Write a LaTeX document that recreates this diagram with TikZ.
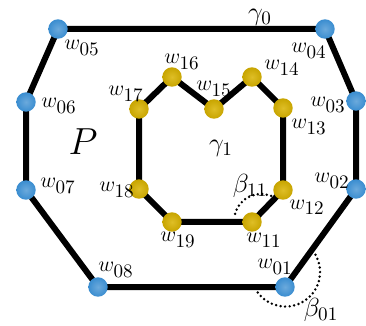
\documentclass[tikz,border=0pt]{standalone}
\usetikzlibrary{backgrounds}
\definecolor{vblue}{HTML}{3A8DD0}
\definecolor{vyel}{HTML}{D9B300}
\newcommand{\subd}[1]{\mbox{\fontsize{10.5}{12}\selectfont#1}}
\newcommand{\wl}[1]{$w_{\subd{#1}}$}

\begin{document}
\begin{tikzpicture}[x=0.55pt,y=-0.55pt,
  ov/.style={circle,inner sep=0pt,minimum size=10.7pt,inner color=vblue!75!white,outer color=vblue},
  iv/.style={circle,inner sep=0pt,minimum size=10.7pt,inner color=vyel!85!white,outer color=vyel!92!black},
  e/.style={line width=3.3pt,line join=round},
  lb/.style={inner sep=0pt,font=\fontsize{12.8}{15}\selectfont},
  gl/.style={inner sep=0pt,font=\fontsize{15.5}{18}\selectfont},
  arcd/.style={line width=1.5pt,dash pattern=on 0pt off 2.5pt,line cap=round}]
  \useasboundingbox (0,0) rectangle (366,326);
  % outer boundary
  \node[ov](w01) at (285,287){};
  \node[ov](w02) at (356,189){};
  \node[ov](w03) at (356,101){};
  \node[ov](w04) at (325,29){};
  \node[ov](w05) at (58,29){};
  \node[ov](w06) at (26,102){};
  \node[ov](w07) at (26,190){};
  \node[ov](w08) at (98,287){};
  % hole
  \node[iv](w11) at (252,222){};
  \node[iv](w12) at (283,190){};
  \node[iv](w13) at (283,108){};
  \node[iv](w14) at (252,77){};
  \node[iv](w15) at (214,109){};
  \node[iv](w16) at (172,77){};
  \node[iv](w17) at (139,109){};
  \node[iv](w18) at (139,189){};
  \node[iv](w19) at (172,222){};
  \begin{scope}[on background layer]
    \draw[e](w01.center)--(w02.center)--(w03.center)--(w04.center)--(w05.center)--(w06.center)--(w07.center)--(w08.center)--cycle;
    \draw[e](w11.center)--(w12.center)--(w13.center)--(w14.center)--(w15.center)--(w16.center)--(w17.center)--(w18.center)--(w19.center)--cycle;
  \end{scope}
  % labels
  \node[lb](l01) at (275,267){\wl{01}};
  \node[lb](l02) at (332,181){\wl{02}};
  \node[lb](l03) at (328,105){\wl{03}};
  \node[lb](l04) at (309,51){\wl{04}};
  \node[lb](l05) at (82,48){\wl{05}};
  \node[lb](l06) at (59,106){\wl{06}};
  \node[lb](l07) at (58,186){\wl{07}};
  \node[lb](l08) at (116,270){\wl{08}};
  \node[lb](l11) at (264,240){\wl{11}};
  \node[lb](l12) at (307,207){\wl{12}};
  \node[lb](l13) at (309,127){\wl{13}};
  \node[lb](l14) at (282,68){\wl{14}};
  \node[lb](l15) at (214,89){\wl{15}};
  \node[lb](l16) at (182,62){\wl{16}};
  \node[lb](l17) at (126,94){\wl{17}};
  \node[lb](l18) at (117,190){\wl{18}};
  \node[lb](l19) at (178,240){\wl{19}};
  \node[gl](g0) at (260,17){$\gamma_{\subd{0}}$};
  \node[gl](g1) at (221,148){$\gamma_{\subd{1}}$};
  \node[lb,font=\huge](p) at (83,142){$P$};
  % angles
  \coordinate(c11) at (261,221);
  \coordinate(c01) at (285.5,272);
  \draw[arcd](c11) ++(68:14.85pt) arc[start angle=68,end angle=169,radius=14.85pt];
  \draw[arcd](c01) ++(30:19pt) arc[start angle=30,end angle=-145,radius=19pt];
  \node[gl](b11) at (250,186){$\beta_{\subd{11}}$};
  \node[gl](b01) at (321,310){$\beta_{\subd{01}}$};
\end{tikzpicture}
\end{document}
